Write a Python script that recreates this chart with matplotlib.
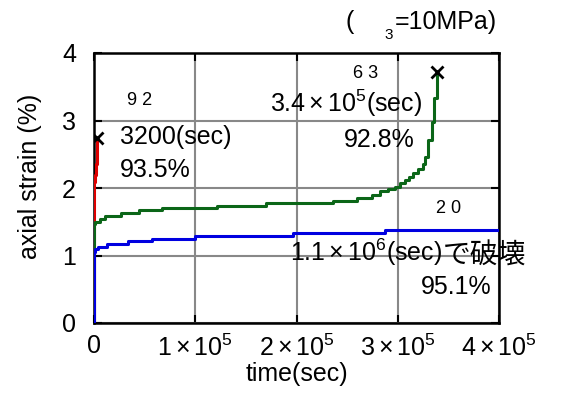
import matplotlib
matplotlib.use('Agg')
import matplotlib.pyplot as plt

plt.rcParams['font.family'] = ['Liberation Sans', 'Noto Sans CJK JP', 'DejaVu Sans']
plt.rcParams['mathtext.fontset'] = 'custom'
plt.rcParams['mathtext.rm'] = 'Liberation Sans'
plt.rcParams['mathtext.it'] = 'Liberation Sans:italic'

# 92% (red), 63% -> 92.8% (green), 20% -> 95.1% (blue)
t_red = [0, 0, 300, 800, 1500, 2500, 3200]
e_red = [0, 1.80, 2.09, 2.20, 2.35, 2.55, 2.72]

t_green = [0, 0, 1e3, 5.9e3, 1.1e4, 2.7e4, 4.4e4, 6.7e4, 1.21e5, 1.7e5, 2.36e5,
           2.6e5, 2.75e5, 2.82e5, 2.9e5, 2.97e5, 3.02e5, 3.07e5, 3.11e5, 3.15e5,
           3.2e5, 3.25e5, 3.27e5, 3.3e5, 3.335e5, 3.36e5, 3.39e5]
e_green = [0, 1.46, 1.49, 1.54, 1.59, 1.63, 1.67, 1.70, 1.74, 1.78, 1.81,
           1.85, 1.90, 1.95, 1.98, 2.02, 2.07, 2.12, 2.17, 2.22,
           2.28, 2.36, 2.46, 2.71, 2.98, 3.33, 3.72]

t_blue = [0, 0, 1e3, 4.3e3, 1.25e4, 3.4e4, 5.7e4, 1.0e5, 1.97e5, 2.87e5, 4.0e5]
e_blue = [0, 1.05, 1.10, 1.13, 1.17, 1.21, 1.25, 1.29, 1.33, 1.38, 1.38]

# 破壊点
t_fail = [3200, 3.39e5]
e_fail = [2.74, 3.72]

xticks = [0, 1e5, 2e5, 3e5, 4e5]
xlabels = ['0', r'$\mathregular{1\times10^5}$', r'$\mathregular{2\times10^5}$',
           r'$\mathregular{3\times10^5}$', r'$\mathregular{4\times10^5}$']
yticks = [0, 1, 2, 3, 4]

fig = plt.figure(figsize=(5.61, 4.01), dpi=100)
ax = fig.add_axes([94/561, 78/401, 405/561, 270/401])

ax.plot(t_red, e_red, drawstyle='steps-post', color='#dd0000', lw=2.2, zorder=3)
ax.plot(t_green, e_green, drawstyle='steps-post', color='#0b6618', lw=2.2, zorder=3)
ax.plot(t_blue, e_blue, drawstyle='steps-post', color='#0000e0', lw=2.2, zorder=3)
ax.plot(t_fail, e_fail, 'x', color='black', ms=8, mew=2, zorder=4)

ax.set_xlim(0, 4e5)
ax.set_ylim(0, 4)
ax.set_xticks(xticks)
ax.set_xticklabels(xlabels)
ax.set_yticks(yticks)
ax.tick_params(direction='in', length=6, width=1.5, labelsize=18,
               top=True, right=True, pad=8)
ax.tick_params(axis='y', pad=13)
ax.grid(True, color='#888888', lw=1.5, zorder=1)
for s in ax.spines.values():
    s.set_linewidth(1.8)
ax.set_xlabel('time(sec)', fontsize=18, labelpad=1)
fig.text(30/561, 1 - 176/401, 'axial strain (%)', rotation=90,
         ha='center', va='center', fontsize=18)

fs = 18
ax.text(2.6e4, 2.76, '3200(sec)', fontsize=fs, va='center')
ax.text(2.6e4, 2.27, '93.5%', fontsize=fs, va='center')
ax.text(4.5e4, 3.29, '9 2', fontsize=13, ha='center', va='center')
ax.text(2.68e5, 3.69, '6 3', fontsize=13, ha='center', va='center')
ax.text(3.24e5, 3.26, r'$\mathregular{3.4\times10^5}$(sec)', fontsize=fs,
        ha='right', va='center')
ax.text(3.17e5, 2.71, '92.8%', fontsize=fs, ha='right', va='center')
ax.text(3.50e5, 1.70, '2 0', fontsize=13, ha='center', va='center')
t_fail_txt = ax.text(1.94e5, 1.04, r'$\mathregular{1.1\times10^6}$(sec)',
                     fontsize=fs, va='center')
ax.annotate('で破壊', xy=(1.0, 0.42), xycoords=t_fail_txt, fontsize=20,
            va='center', ha='left', family=['Noto Sans CJK JP'])
ax.text(3.93e5, 0.53, '95.1%', fontsize=fs, ha='right', va='center')

fig.text(346/561, 1 - 22/401, '(', fontsize=fs, va='center')
fig.text(384/561, 1 - 35/401, '3', fontsize=11, va='center')
fig.text(497/561, 1 - 22/401, '=10MPa)', fontsize=fs, ha='right', va='center')

fig.savefig('out.png', dpi=100)
